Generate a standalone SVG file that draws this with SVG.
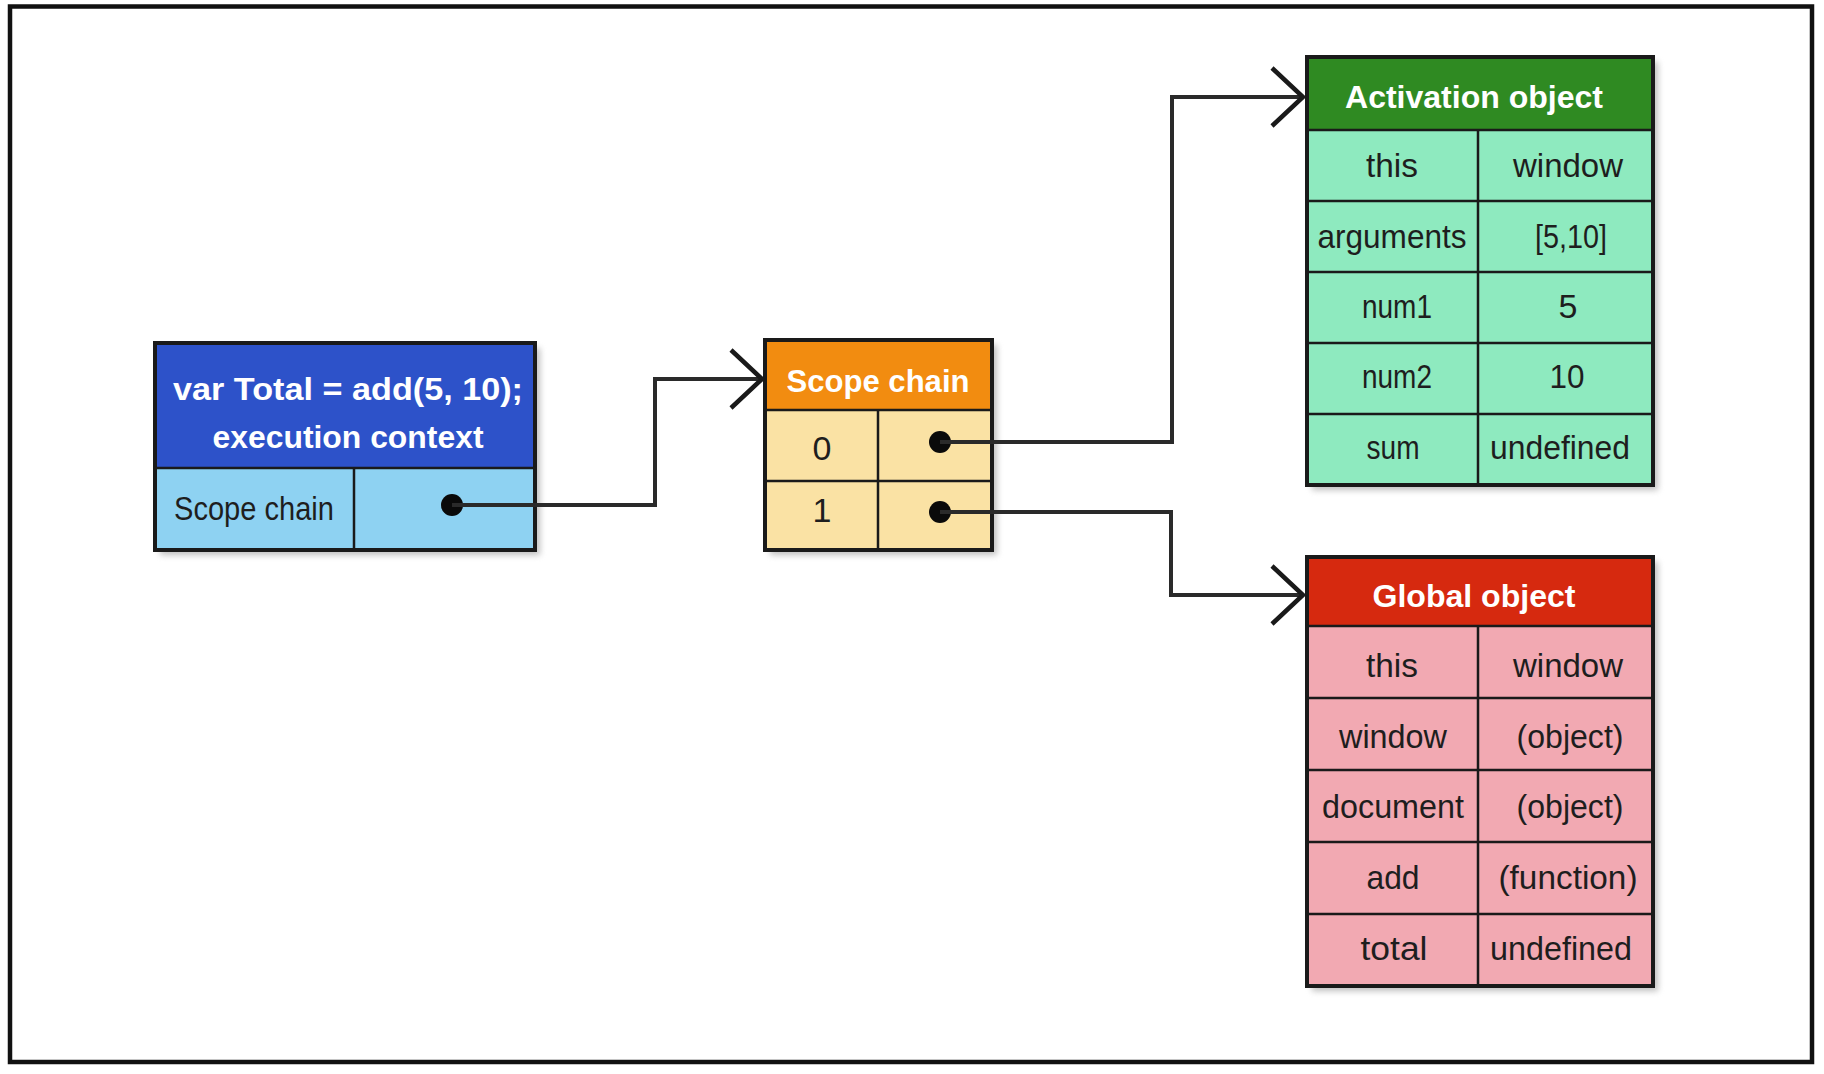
<svg xmlns="http://www.w3.org/2000/svg" width="1824" height="1074" viewBox="0 0 1824 1074">
<style>
.hdr{font-family:"Liberation Sans",Arial,sans-serif;font-weight:bold;font-size:32px;fill:#ffffff;text-anchor:middle}
.cell{font-family:"Liberation Sans",Arial,sans-serif;font-size:34px;fill:#1e1e1e;text-anchor:middle}
.box{stroke:#1a1a1a;stroke-width:4}
.div{stroke:#1a1a1a;stroke-width:2.5;fill:none}
.shadow{fill:#8a8a8a;opacity:0.55}
.conn{fill:none;stroke:#2a2a2a;stroke-width:4}
.dot{fill:#0a0a0a}
</style>
<defs>
<filter id="blur" x="-10%" y="-10%" width="120%" height="120%"><feGaussianBlur stdDeviation="3"/></filter>
<marker id="arr" markerUnits="userSpaceOnUse" markerWidth="40" markerHeight="70" viewBox="-36 -35 40 70" refX="0" refY="0" orient="auto">
<path d="M -31 -29 L 0 0 L -31 29" fill="none" stroke="#1a1a1a" stroke-width="4.5"/>
</marker>
</defs>
<rect x="0" y="0" width="1824" height="1074" fill="#ffffff"/>
<rect x="10" y="6.5" width="1802" height="1055.5" fill="none" stroke="#111" stroke-width="4.5"/>

<g id="execution-context">
<rect class="shadow" x="160" y="348" width="380" height="207" filter="url(#blur)"/>
<rect x="155" y="343" width="380" height="125" fill="#2d52c9"/>
<rect x="155" y="468" width="380" height="82" fill="#8ed2f2"/>
<rect class="box" x="155" y="343" width="380" height="207" fill="none"/>
<line class="div" x1="155" y1="468" x2="535" y2="468" stroke-width="4"/>
<line class="div" x1="354" y1="468" x2="354" y2="550"/>
<text class="hdr" x="348" y="400" textLength="350" lengthAdjust="spacingAndGlyphs">var Total = add(5, 10);</text>
<text class="hdr" x="348" y="448" textLength="271" lengthAdjust="spacingAndGlyphs">execution context</text>
<text class="cell" x="254" y="520" textLength="160" lengthAdjust="spacingAndGlyphs">Scope chain</text>
<circle class="dot" cx="452" cy="505" r="11"/>
</g>

<g id="scope-chain">
<rect class="shadow" x="770" y="345" width="227" height="210" filter="url(#blur)"/>
<rect x="765" y="340" width="227" height="70" fill="#f28c10"/>
<rect x="765" y="410" width="227" height="140" fill="#fae2a4"/>
<rect class="box" x="765" y="340" width="227" height="210" fill="none"/>
<line class="div" x1="765" y1="410" x2="992" y2="410" stroke-width="4"/>
<line class="div" x1="765" y1="481" x2="992" y2="481" stroke="#6b3d12"/>
<line class="div" x1="878" y1="410" x2="878" y2="550" stroke="#6b3d12"/>
<text class="hdr" x="878" y="392" textLength="183" lengthAdjust="spacingAndGlyphs">Scope chain</text>
<text class="cell" x="822" y="460" fill="#4a2a10">0</text>
<text class="cell" x="822" y="522" fill="#4a2a10">1</text>
<circle class="dot" cx="940" cy="442" r="11"/>
<circle class="dot" cx="940" cy="512" r="11"/>
</g>

<g id="activation-object">
<rect class="shadow" x="1312" y="62" width="346" height="428" filter="url(#blur)"/>
<rect x="1307" y="57" width="346" height="73" fill="#2f8a22"/>
<rect x="1307" y="130" width="346" height="355" fill="#8eeabf"/>
<rect class="box" x="1307" y="57" width="346" height="428" fill="none"/>
<line class="div" x1="1307" y1="130" x2="1653" y2="130" stroke-width="4"/>
<line class="div" x1="1307" y1="201" x2="1653" y2="201" stroke="#1f3a26"/>
<line class="div" x1="1307" y1="272" x2="1653" y2="272" stroke="#1f3a26"/>
<line class="div" x1="1307" y1="343" x2="1653" y2="343" stroke="#1f3a26"/>
<line class="div" x1="1307" y1="414" x2="1653" y2="414" stroke="#1f3a26"/>
<line class="div" x1="1478" y1="130" x2="1478" y2="485" stroke="#1f3a26"/>
<text class="hdr" x="1474" y="108" textLength="258" lengthAdjust="spacingAndGlyphs">Activation object</text>
<text class="cell" x="1392" y="177" textLength="52" lengthAdjust="spacingAndGlyphs">this</text>
<text class="cell" x="1568" y="177" textLength="110" lengthAdjust="spacingAndGlyphs">window</text>
<text class="cell" x="1392" y="248" textLength="149" lengthAdjust="spacingAndGlyphs">arguments</text>
<text class="cell" x="1571" y="248" textLength="72" lengthAdjust="spacingAndGlyphs">[5,10]</text>
<text class="cell" x="1397" y="318" textLength="70" lengthAdjust="spacingAndGlyphs">num1</text>
<text class="cell" x="1568" y="318">5</text>
<text class="cell" x="1397" y="388" textLength="70" lengthAdjust="spacingAndGlyphs">num2</text>
<text class="cell" x="1567" y="388" textLength="35" lengthAdjust="spacingAndGlyphs">10</text>
<text class="cell" x="1393" y="459" textLength="53" lengthAdjust="spacingAndGlyphs">sum</text>
<text class="cell" x="1560" y="459" textLength="140" lengthAdjust="spacingAndGlyphs">undefined</text>
</g>

<g id="global-object">
<rect class="shadow" x="1312" y="562" width="346" height="429" filter="url(#blur)"/>
<rect x="1307" y="557" width="346" height="69" fill="#d6290f"/>
<rect x="1307" y="626" width="346" height="360" fill="#f2a9b2"/>
<rect class="box" x="1307" y="557" width="346" height="429" fill="none"/>
<line class="div" x1="1307" y1="626" x2="1653" y2="626" stroke-width="4"/>
<line class="div" x1="1307" y1="698" x2="1653" y2="698" stroke="#4a2a2a"/>
<line class="div" x1="1307" y1="770" x2="1653" y2="770" stroke="#4a2a2a"/>
<line class="div" x1="1307" y1="842" x2="1653" y2="842" stroke="#4a2a2a"/>
<line class="div" x1="1307" y1="914" x2="1653" y2="914" stroke="#4a2a2a"/>
<line class="div" x1="1478" y1="626" x2="1478" y2="986" stroke="#4a2a2a"/>
<text class="hdr" x="1474" y="607" textLength="203" lengthAdjust="spacingAndGlyphs">Global object</text>
<text class="cell" x="1392" y="677" textLength="52" lengthAdjust="spacingAndGlyphs">this</text>
<text class="cell" x="1568" y="677" textLength="110" lengthAdjust="spacingAndGlyphs">window</text>
<text class="cell" x="1393" y="748" textLength="108" lengthAdjust="spacingAndGlyphs">window</text>
<text class="cell" x="1570" y="748" textLength="107" lengthAdjust="spacingAndGlyphs">(object)</text>
<text class="cell" x="1393" y="818" textLength="142" lengthAdjust="spacingAndGlyphs">document</text>
<text class="cell" x="1570" y="818" textLength="107" lengthAdjust="spacingAndGlyphs">(object)</text>
<text class="cell" x="1393" y="889" textLength="53" lengthAdjust="spacingAndGlyphs">add</text>
<text class="cell" x="1568" y="889" textLength="139" lengthAdjust="spacingAndGlyphs">(function)</text>
<text class="cell" x="1394" y="960" textLength="67" lengthAdjust="spacingAndGlyphs">total</text>
<text class="cell" x="1561" y="960" textLength="142" lengthAdjust="spacingAndGlyphs">undefined</text>
</g>

<g id="connectors">
<polyline class="conn" points="452,505 655,505 655,379 762,379" marker-end="url(#arr)"/>
<polyline class="conn" points="940,442 1172,442 1172,97 1303,97" marker-end="url(#arr)"/>
<polyline class="conn" points="940,512 1171,512 1171,595 1303,595" marker-end="url(#arr)"/>
</g>
</svg>
